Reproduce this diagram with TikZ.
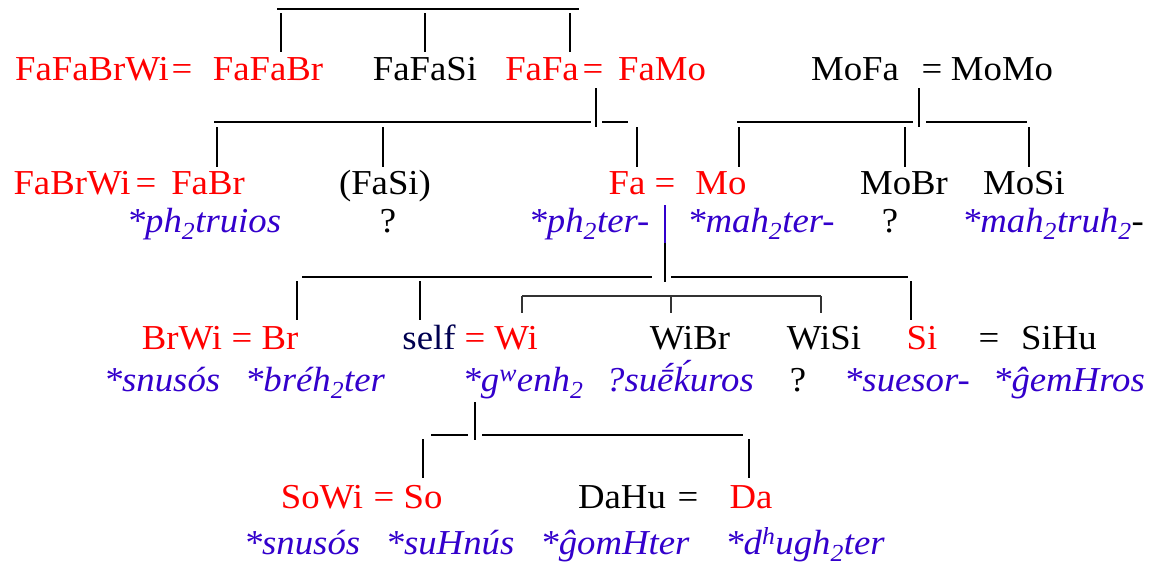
\documentclass[tikz,border=0pt]{standalone}
\usepackage{fontspec}
\setmainfont{Liberation Serif}[FakeStretch=1.05]
\usetikzlibrary{calc}
\definecolor{kred}{RGB}{255,0,0}
\definecolor{kblue}{RGB}{51,0,204}
\definecolor{knavy}{RGB}{0,0,80}
\begin{document}
\begin{tikzpicture}[x=1pt,y=-1pt,
  person/.style={inner sep=0pt, anchor=base, text height=23pt, text depth=7pt, font=\fontsize{35}{40}\selectfont},
  rel/.style={person, text=kred},
  oth/.style={person, text=black},
  selfst/.style={person, text=knavy},
  term/.style={inner sep=0pt, anchor=base, font=\fontsize{35}{40}\selectfont\itshape, text=kblue},
  unk/.style={inner sep=0pt, anchor=base, font=\fontsize{35}{40}\selectfont, text=black},
  bar/.style={line width=1.8pt},
  drop/.style={line width=2.2pt},
  thinbar/.style={line width=1.2pt, draw=black!80}]
\useasboundingbox (0,0) rectangle (1153,565);

% ---------- Row 1 ----------
\node[rel] (fafabrwi) at (92,80) {FaFaBrWi};
\node[rel] (eqA) at (182,80) {=};
\node[rel] (fafabr) at (268,80) {FaFaBr};
\node[oth] (fafasi) at (425,80) {FaFaSi};
\node[rel] (fafa) at (542,80) {FaFa};
\node[rel] (eqB) at (593,80) {=};
\node[rel] (famo) at (662,80) {FaMo};
\node[oth] (mofa) at (855,80) {MoFa};
\node[oth] (eqC) at (932,80) {=};
\node[oth] (momo) at (1002,80) {MoMo};

% ---------- Row 2 ----------
\node[rel] (fabrwi) at (72,194) {FaBrWi};
\node[rel] (eqD) at (146,194) {=};
\node[rel] (fabr) at (208,194) {FaBr};
\node[oth] (fasi) at (385,194) {(FaSi)};
\node[rel] (fa) at (627,194) {Fa};
\node[rel] (eqE) at (665,194) {=};
\node[rel] (mo) at (721,194) {Mo};
\node[oth] (mobr) at (904,194) {MoBr};
\node[oth] (mosi) at (1024,194) {MoSi};

\node[term] (tfabr) at (204,232) {*ph\textsubscript{2}truios};
\node[unk] (qfasi) at (388,232) {?};
\node[term] (tfa) at (589,232) {*ph\textsubscript{2}ter-};
\node[term] (tmo) at (761,232) {*mah\textsubscript{2}ter-};
\node[unk] (qmobr) at (890,232) {?};
\node[term] (tmosi) at (1053,232) {*mah\textsubscript{2}truh\textsubscript{2}\textcolor{black}{\upshape -}};

% ---------- Row 3 ----------
\node[rel] (brwi) at (182,349) {BrWi};
\node[rel] (eqF) at (242,349) {=};
\node[rel] (br) at (280,349) {Br};
\node[selfst] (self) at (429,349) {self};
\node[rel] (eqG) at (475,349) {=};
\node[rel] (wi) at (516,349) {Wi};
\node[oth] (wibr) at (690,349) {WiBr};
\node[oth] (wisi) at (824,349) {WiSi};
\node[rel] (si) at (922,349) {Si};
\node[oth] (eqH) at (989,349) {=};
\node[oth] (sihu) at (1059,349) {SiHu};

\node[term] (tbrwi) at (162,391) {*snusós};
\node[term] (tbr) at (315,391) {*bréh\textsubscript{2}ter};
\node[term] (twi) at (523,391) {*g\textsuperscript{w}enh\textsubscript{2}};
\node[term] (twibr) at (680,391) {?suḗḱuros};
\node[unk] (qwisi) at (798,391) {?};
\node[term] (tsi) at (907,391) {*suesor-};
\node[term] (tsihu) at (1069,391) {*ĝemHros};

% ---------- Row 4 ----------
\node[rel] (sowi) at (322,508) {SoWi};
\node[rel] (eqI) at (384,508) {=};
\node[rel] (so) at (423,508) {So};
\node[oth] (dahu) at (622,508) {DaHu};
\node[oth] (eqJ) at (688,508) {=};
\node[rel] (da) at (751,508) {Da};

\node[term] (tsowi) at (302,554) {*snusós};
\node[term] (tso) at (450,554) {*suHnús};
\node[term] (tdahu) at (615,554) {*ĝomHter};
\node[term] (tda) at (805,554) {*d\textsuperscript{h}ugh\textsubscript{2}ter};

% ---------- Lines: FaFa's sibling set ----------
\coordinate (b1l) at (277,9);
\coordinate (b1r) at (579,9);
\draw[bar] (b1l) -- (b1r);
\coordinate (d1a) at (281,13);
\coordinate (d1b) at (425,13);
\coordinate (d1c) at (570,13);
\draw[drop] (d1a) -- ($(d1a |- fafabr.north)+(0,-5)$);
\draw[drop] (d1b) -- ($(d1b |- fafasi.north)+(0,-5)$);
\draw[drop] (d1c) -- ($(d1c |- fafa.north)+(0,-5)$);

% ---------- FaFa = FaMo children ----------
\coordinate (m1t) at (596,88);
\coordinate (m1b) at (596,127);
\draw[drop] (m1t) -- (m1b);
\coordinate (b2l) at (214,122);
\coordinate (b2m) at (591,122);
\coordinate (b2n) at (602,122);
\coordinate (b2r) at (628,122);
\draw[bar] (b2l) -- (b2m);
\draw[bar] (b2n) -- (b2r);
\coordinate (d2a) at (217,127);
\coordinate (d2b) at (383,127);
\coordinate (d2c) at (637,127);
\draw[drop] (d2a) -- ($(d2a |- fabr.north)+(0,-4)$);
\draw[drop] (d2b) -- ($(d2b |- fasi.north)+(0,-4)$);
\draw[drop] (d2c) -- ($(d2c |- fa.north)+(0,-4)$);

% ---------- MoFa = MoMo children ----------
\coordinate (m2t) at (919,88);
\coordinate (m2b) at (919,127);
\draw[drop] (m2t) -- (m2b);
\coordinate (b3l) at (737,122);
\coordinate (b3m) at (913,122);
\coordinate (b3n) at (926,122);
\coordinate (b3r) at (1027,122);
\draw[bar] (b3l) -- (b3m);
\draw[bar] (b3n) -- (b3r);
\coordinate (d3a) at (739,127);
\coordinate (d3b) at (905,127);
\coordinate (d3c) at (1029,127);
\draw[drop] (d3a) -- ($(d3a |- mo.north)+(0,-4)$);
\draw[drop] (d3b) -- ($(d3b |- mobr.north)+(0,-4)$);
\draw[drop] (d3c) -- ($(d3c |- mosi.north)+(0,-4)$);

% ---------- Fa = Mo children ----------
\coordinate (m3t) at (665,205);
\coordinate (m3m) at (665,243);
\coordinate (m3b) at (665,282);
\draw[drop, draw=kblue] (m3t) -- (m3m);
\draw[drop] (m3m) -- (m3b);
\coordinate (b4l) at (302,277);
\coordinate (b4m) at (652,277);
\coordinate (b4n) at (671,277);
\coordinate (b4r) at (908,277);
\draw[bar] (b4l) -- (b4m);
\draw[bar] (b4n) -- (b4r);
\coordinate (d4a) at (297,281);
\coordinate (d4b) at (420,281);
\coordinate (d4c) at (911,281);
\draw[drop] (d4a) -- ($(d4a |- br.north)+(0,-6)$);
\draw[drop] (d4b) -- ($(d4b |- self.north)+(0,-6)$);
\draw[drop] (d4c) -- ($(d4c |- si.north)+(0,-6)$);

% ---------- Wi's siblings ----------
\coordinate (b5l) at (522,296);
\coordinate (b5r) at (821,296);
\draw[thinbar] (b5l) -- (b5r);
\coordinate (d5b) at (671,296);
\draw[thinbar] (b5l) -- ($(b5l |- wi.north)+(0,-13)$);
\draw[thinbar] (d5b) -- ($(d5b |- wibr.north)+(0,-13)$);
\draw[thinbar] (b5r) -- ($(b5r |- wisi.north)+(0,-13)$);

% ---------- self = Wi children ----------
\coordinate (m4t) at (475,402);
\coordinate (m4b) at (475,440);
\draw[drop] (m4t) -- (m4b);
\coordinate (b6l) at (431,435);
\coordinate (b6m) at (468,435);
\coordinate (b6n) at (482,435);
\coordinate (b6r) at (743,435);
\draw[bar] (b6l) -- (b6m);
\draw[bar] (b6n) -- (b6r);
\coordinate (d6a) at (423,439);
\coordinate (d6b) at (749,439);
\draw[drop] (d6a) -- ($(d6a |- so.north)+(0,-7)$);
\draw[drop] (d6b) -- ($(d6b |- da.north)+(0,-7)$);
\end{tikzpicture}
\end{document}
